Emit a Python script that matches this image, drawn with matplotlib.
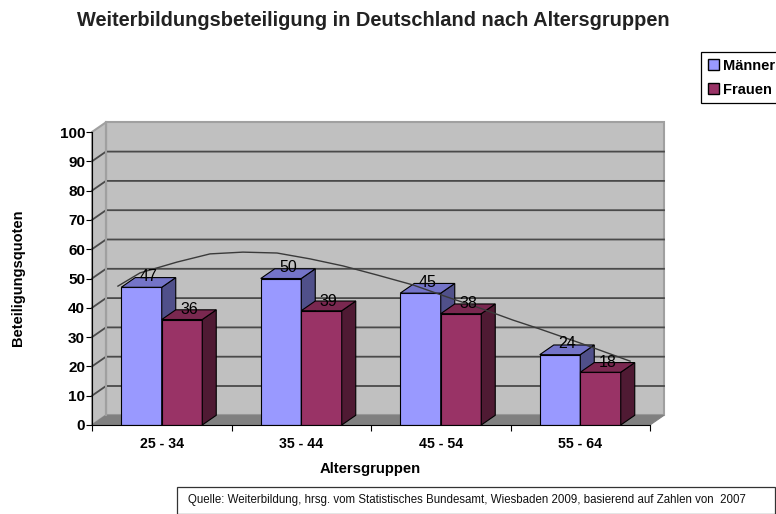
import matplotlib
matplotlib.use("Agg")
import matplotlib.pyplot as plt
from matplotlib.patches import Polygon, Patch

plt.rcParams['font.family'] = ['Liberation Sans', 'DejaVu Sans']

# Chart data
categories = ['25 - 34', '35 - 44', '45 - 54', '55 - 64']
maenner = [47, 50, 45, 24]
frauen = [36, 39, 38, 18]
y_ticks = [0, 10, 20, 30, 40, 50, 60, 70, 80, 90, 100]

# hand-drawn curve in the original
trend_x = [0.186, 0.344, 0.487, 0.609, 0.846, 1.082, 1.326, 1.563, 1.799, 2.043,
           2.301, 2.545, 2.781, 3.018, 3.19, 3.498, 3.857]
trend_y = [47.4, 51.9, 53.9, 55.6, 58.4, 59.0, 58.7, 56.7, 54.3, 51.2,
           47.8, 43.7, 39.9, 35.8, 33.1, 28.0, 21.8]

W, H = 776, 514
DX = 14 / 139.5   # depth offset, x in category units
DY = 9.7 / 2.93   # depth offset, y in value units
BAR_W = 40.5 / 139.5

WALL = '#C0C0C0'
WALL_EDGE = '#A0A0A0'
FLOOR = '#808080'
GRID = '#4A4A4A'
M_COLS = ('#9999FF', '#7474C8', '#50508A')
F_COLS = ('#993366', '#7A2850', '#4F1A33')

fig = plt.figure(figsize=(W / 100, H / 100), dpi=100, facecolor='white')
ax = fig.add_axes([92 / W, (H - 425) / H, 558 / W, 293 / H])
ax.set_xlim(0, 4)
ax.set_ylim(0, 100)
ax.patch.set_visible(False)


def poly(pts, fc, ec='none', lw=0.8, z=1):
    ax.add_patch(Polygon(pts, closed=True, facecolor=fc, edgecolor=ec, linewidth=lw,
                         zorder=z, clip_on=False))


# walls and floor
poly([(DX, DY), (4 + DX, DY), (4 + DX, 100 + DY), (DX, 100 + DY)], WALL, WALL_EDGE, 1.5)
poly([(0, 0), (DX, DY), (DX, 100 + DY), (0, 100)], WALL, WALL_EDGE, 1.5)
poly([(0, 0), (4, 0), (4 + DX, DY), (DX, DY)], FLOOR, FLOOR)

# grid, back wall plus the diagonal on the side wall
for v in y_ticks[1:-1]:
    ax.plot([0, DX, 4 + DX], [v, v + DY, v + DY], color=GRID, lw=1.3, zorder=2, clip_on=False)
ax.plot([DX, DX], [DY, 100 + DY], color=WALL_EDGE, lw=1.5, zorder=2, clip_on=False)


def draw_bar(x, v, cols):
    ax.bar(x, v, BAR_W, align='edge', color=cols[0], edgecolor='black', linewidth=0.8, zorder=3)
    poly([(x + BAR_W, 0), (x + BAR_W + DX, DY), (x + BAR_W + DX, v + DY), (x + BAR_W, v)],
         cols[2], 'black', z=3)
    poly([(x, v), (x + BAR_W, v), (x + BAR_W + DX, v + DY), (x + DX, v + DY)],
         cols[1], 'black', z=3)


for i in range(len(categories)):
    draw_bar(i + 0.5 - BAR_W, maenner[i], M_COLS)
    draw_bar(i + 0.5, frauen[i], F_COLS)

ax.plot(trend_x, trend_y, color='#3A3A3A', lw=1.0, zorder=4, clip_on=False)

for i in range(len(categories)):
    ax.text(i + 0.5 - BAR_W / 2 + DX / 2, maenner[i] + 3.7, str(maenner[i]), ha='center',
            va='center', fontsize=11.5, zorder=5)
    ax.text(i + 0.5 + BAR_W / 2 + DX / 2, frauen[i] + 3.3, str(frauen[i]), ha='center',
            va='center', fontsize=11.5, zorder=5)

# axes
for s in ('top', 'right'):
    ax.spines[s].set_visible(False)
ax.spines['left'].set_zorder(6)
ax.spines['bottom'].set_zorder(6)
ax.set_yticks(y_ticks)
ax.set_yticklabels([str(v) for v in y_ticks], fontsize=11, fontweight='bold')
ax.set_xticks(range(5))
ax.set_xticklabels([])
ax.set_xticks([i + 0.5 for i in range(4)], minor=True)
ax.set_xticklabels(categories, minor=True, fontsize=10.2, fontweight='bold')
ax.tick_params(axis='x', which='minor', length=0, pad=9)
ax.tick_params(axis='both', which='major', length=4, width=0.8, direction='out')
ax.tick_params(axis='y', pad=1)

fig.text(373 / W, 1 - 20.5 / H, 'Weiterbildungsbeteiligung in Deutschland nach Altersgruppen',
         ha='center', va='center', fontsize=14.4, fontweight='bold', color='#222222')
fig.text(370 / W, 1 - 469 / H, 'Altersgruppen', ha='center', va='center',
         fontsize=10.7, fontweight='bold')
fig.text(18 / W, 1 - 278 / H, 'Beteiligungsquoten', ha='center', va='center',
         rotation=90, fontsize=10.5, fontweight='bold')

handles = [Patch(facecolor=M_COLS[0], edgecolor='black'), Patch(facecolor=F_COLS[0], edgecolor='black')]
leg = fig.legend(handles, ['Männer', 'Frauen'], loc='upper left',
                 bbox_to_anchor=(701 / W, 1 - 52 / H), bbox_transform=fig.transFigure,
                 prop={'size': 10.5, 'weight': 'bold'}, fancybox=False, edgecolor='black',
                 framealpha=1, handlelength=0.8, handleheight=0.8, handletextpad=0.25,
                 labelspacing=0.7, borderpad=0.45, borderaxespad=0)
leg.get_frame().set_linewidth(0.9)

# source box
fig.text(188 / W, 1 - 500 / H,
         'Quelle: Weiterbildung, hrsg. vom Statistisches Bundesamt, Wiesbaden 2009, basierend auf Zahlen von  2007',
         ha='left', va='center', fontsize=8.3, color='#111111')
fig.add_artist(plt.Rectangle((177 / W, 0), (W - 177) / W - 0.001, (H - 487) / H, fill=False,
                             edgecolor='#333333', linewidth=0.9, transform=fig.transFigure))

fig.savefig('out.png', dpi=100)
